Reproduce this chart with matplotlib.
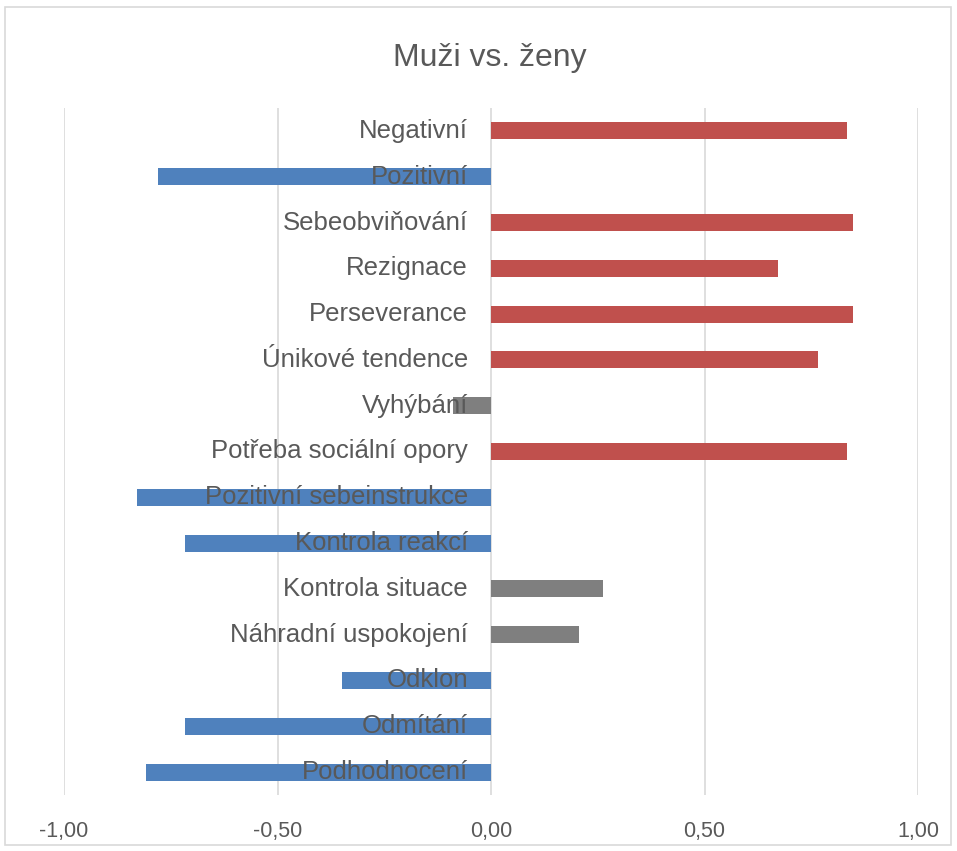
import matplotlib
matplotlib.use("Agg")
import matplotlib.pyplot as plt
from matplotlib.patches import Rectangle

categories = ["Negativní", "Pozitivní", "Sebeobviňování", "Rezignace", "Perseverance",
              "Únikové tendence", "Vyhýbání", "Potřeba sociální opory",
              "Pozitivní sebeinstrukce", "Kontrola reakcí", "Kontrola situace",
              "Náhradní uspokojení", "Odklon", "Odmítání", "Podhodnocení"]
values = [0.834, -0.780, 0.848, 0.672, 0.848, 0.766, -0.089, 0.834,
          -0.829, -0.717, 0.262, 0.206, -0.349, -0.717, -0.808]
groups = ["r", "b", "r", "r", "r", "r", "g", "r", "b", "b", "g", "g", "b", "b", "b"]
colors = {"r": "#C0504D", "b": "#4F81BD", "g": "#7F7F7F"}
ticks = [-1.0, -0.5, 0.0, 0.5, 1.0]
tick_labels = ["-1,00", "-0,50", "0,00", "0,50", "1,00"]

sans = ["Liberation Sans", "DejaVu Sans"]
text_col = "#595959"

fig = plt.figure(figsize=(9.57, 8.51), dpi=100)
fig.patches.append(Rectangle((5 / 957, 6 / 851), 946 / 957, 838 / 851, transform=fig.transFigure,
                             fill=False, edgecolor="#D9D9D9", linewidth=1.2))
ax = fig.add_axes([64 / 957, 56 / 851, 854 / 957, 687 / 851])

y = list(range(len(categories)))
ax.barh(y, values, height=0.37, color=[colors[g] for g in groups], zorder=2)
ax.set_xlim(-1, 1)
ax.set_ylim(len(categories) - 0.5, -0.5)
ax.set_xticks(ticks)
ax.set_xticklabels(tick_labels, fontfamily=sans, fontsize=15.5, color=text_col)
ax.set_yticks([])
for v in ticks:
    ax.axvline(v, color="#D9D9D9", lw=1.2, zorder=1)
for s in ax.spines.values():
    s.set_visible(False)
ax.tick_params(axis="x", length=0, pad=19)

for yi, c in zip(y, categories):
    ax.text(-0.054, yi, c, ha="right", va="center", fontsize=18.5, color=text_col,
            fontfamily=sans, zorder=3)

fig.text(0.512, 1 - 58 / 851, "Muži vs. ženy", ha="center", va="center", fontsize=23,
         color=text_col, fontfamily=sans)

fig.savefig("out.png", dpi=100)
